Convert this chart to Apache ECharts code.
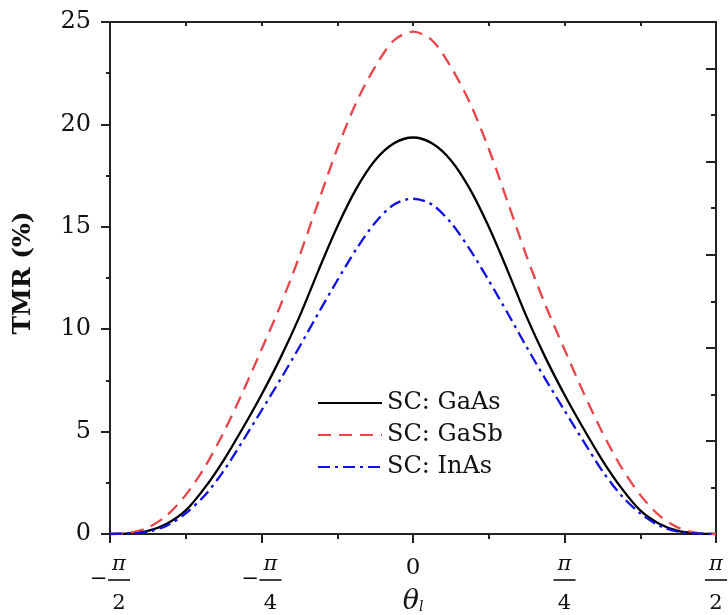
<!DOCTYPE html>
<html>
<head>
<meta charset="utf-8">
<script src="https://cdn.jsdelivr.net/npm/echarts@6/dist/echarts.min.js"></script>
<style>html,body{margin:0;padding:0;background:#fff;}#c{width:728px;height:615px;}</style>
</head>
<body>
<div id="c"></div>
<script>
// theta in units of pi (from -pi/2 to pi/2, step pi/32)
const thetaOverPi = [-0.5, -0.46875, -0.4375, -0.40625, -0.375, -0.34375, -0.3125, -0.28125, -0.25, -0.21875, -0.1875, -0.15625, -0.125, -0.09375, -0.0625, -0.03125, 0,
  0.03125, 0.0625, 0.09375, 0.125, 0.15625, 0.1875, 0.21875, 0.25, 0.28125, 0.3125, 0.34375, 0.375, 0.40625, 0.4375, 0.46875, 0.5];
const tmrGaAs = [0, 0.03, 0.15, 0.5, 1.15, 2.25, 3.6, 5.15, 6.8, 8.6, 10.6, 12.85, 15.0, 16.85, 18.25, 19.08, 19.36,
  19.08, 18.25, 16.85, 15.0, 12.85, 10.6, 8.6, 6.8, 5.15, 3.6, 2.25, 1.15, 0.5, 0.15, 0.03, 0];
const tmrGaSb = [0, 0.05, 0.31, 0.91, 1.91, 3.26, 4.96, 6.91, 9.01, 11.16, 13.56, 16.21, 18.81, 21.06, 22.81, 24.11, 24.53,
  24.11, 22.81, 21.06, 18.81, 16.21, 13.56, 11.16, 9.01, 6.91, 4.96, 3.26, 1.91, 0.91, 0.31, 0.05, 0];
const tmrInAs = [0, 0.03, 0.11, 0.41, 1.01, 1.88, 3.08, 4.53, 6.03, 7.55, 9.13, 10.78, 12.38, 13.9, 15.2, 16.09, 16.37,
  16.09, 15.2, 13.9, 12.38, 10.78, 9.13, 7.55, 6.03, 4.53, 3.08, 1.88, 1.01, 0.41, 0.11, 0.03, 0];
const seriesNames = ['SC: GaAs', 'SC: GaSb', 'SC: InAs'];
const rightMajorTicks = [2, 4, 6, 8, 10];
const rightMinorTicks = [1, 3, 5, 7, 9];

const FONT = 'DejaVu Serif';
const AX = '#222';

function pairs(ys) { return thetaOverPi.map((x, i) => [x, ys[i]]); }

function fracLabel(v) {
  if (Math.abs(v) < 1e-9) return '{z|0}';
  const den = Math.abs(Math.abs(v) - 0.5) < 1e-9 ? '2' : '4';
  if (v < 0) return '{sp| }{n|π}\n{m|−}{bar| }\n{sp| }{d|' + den + '}';
  return '{n|π}\n{bar| }\n{d|' + den + '}';
}

const chart = echarts.init(document.getElementById('c'), null, {renderer: 'canvas'});
chart.setOption({
  animation: false,
  backgroundColor: '#fff',
  grid: {left: 110, right: 12, top: 22, bottom: 81, containLabel: false, outerBoundsMode: 'none'},
  legend: {
    orient: 'vertical', left: 312, top: 386,
    itemWidth: 64, itemHeight: 14, itemGap: 8,
    itemStyle: {opacity: 0},
    textStyle: {fontFamily: FONT, fontSize: 24, color: '#111', lineHeight: 24},
    data: seriesNames
  },
  xAxis: [{
    type: 'value', min: -0.5, max: 0.5, interval: 0.25, position: 'bottom',
    name: '{t|θ}{s|l}', nameLocation: 'middle', nameGap: 54, nameMoveOverlap: false,
    nameTextStyle: {rich: {
      t: {fontFamily: FONT, fontStyle: 'italic', fontSize: 27, color: '#111'},
      s: {fontFamily: FONT, fontStyle: 'italic', fontSize: 14, color: '#111', padding: [12, 0, 0, 0]}
    }},
    axisLine: {show: true, onZero: false, lineStyle: {color: AX, width: 2}},
    axisTick: {show: true, inside: false, length: 9, lineStyle: {color: AX, width: 2}},
    minorTick: {show: true, splitNumber: 2, length: 5, lineStyle: {color: AX, width: 2}},
    splitLine: {show: false}, minorSplitLine: {show: false},
    axisLabel: {
      margin: 20, verticalAlign: 'top', formatter: fracLabel, color: '#111',
      rich: {
        z: {fontFamily: FONT, fontSize: 23, lineHeight: 28, color: '#111'},
        n: {fontFamily: FONT, fontStyle: 'italic', fontSize: 21, width: 22, align: 'center', lineHeight: 22, color: '#111'},
        d: {fontFamily: FONT, fontSize: 21, width: 22, align: 'center', lineHeight: 40, color: '#111'},
        bar: {width: 22, height: 1.6, backgroundColor: '#111', lineHeight: 8, fontSize: 4},
        m: {fontFamily: FONT, fontSize: 21, width: 18, align: 'left', lineHeight: 8, color: '#111'},
        sp: {width: 18, fontSize: 4, lineHeight: 8}
      }
    }
  }, {
    type: 'value', min: -0.5, max: 0.5, interval: 0.125, position: 'top',
    axisLine: {show: true, onZero: false, lineStyle: {color: AX, width: 2}},
    axisTick: {show: true, inside: true, length: 4, lineStyle: {color: AX, width: 2}},
    axisLabel: {show: false}, splitLine: {show: false}
  }],
  yAxis: [{
    type: 'value', min: 0, max: 25, interval: 5, position: 'left',
    name: 'TMR (%)', nameLocation: 'middle', nameGap: 74, nameMoveOverlap: false,
    nameTextStyle: {fontFamily: FONT, fontWeight: 'bold', fontSize: 25, color: '#111', padding: [0, 0, 0, 10]},
    axisLine: {show: true, onZero: false, lineStyle: {color: AX, width: 2}},
    axisTick: {show: true, inside: false, length: 9, lineStyle: {color: AX, width: 2}},
    minorTick: {show: true, splitNumber: 2, length: 4, lineStyle: {color: AX, width: 2}},
    splitLine: {show: false}, minorSplitLine: {show: false},
    axisLabel: {margin: 19, fontFamily: FONT, fontSize: 24, color: '#111'}
  }, {
    type: 'value', min: 0, max: 11, position: 'right', offset: 0,
    axisLine: {show: true, onZero: false, lineStyle: {color: AX, width: 2}},
    axisTick: {show: true, inside: true, length: 10, customValues: rightMajorTicks, lineStyle: {color: AX, width: 2}},
    axisLabel: {show: false}, splitLine: {show: false}
  }, {
    type: 'value', min: 0, max: 11, position: 'right', offset: 0,
    axisLine: {show: true, onZero: false, lineStyle: {color: AX, width: 2}},
    axisTick: {show: true, inside: true, length: 5, customValues: rightMinorTicks, lineStyle: {color: AX, width: 2}},
    axisLabel: {show: false}, splitLine: {show: false}
  }],
  series: [{
    name: seriesNames[0], type: 'line', data: pairs(tmrGaAs), smooth: 0.3, symbol: 'none',
    lineStyle: {color: '#000', width: 2.3, type: 'solid'}, itemStyle: {color: '#000'}
  }, {
    name: seriesNames[1], type: 'line', data: pairs(tmrGaSb), smooth: 0.3, symbol: 'none',
    lineStyle: {color: '#e8454a', width: 2.3, type: [13, 8]}, itemStyle: {color: '#e8454a'}
  }, {
    name: seriesNames[2], type: 'line', data: pairs(tmrInAs), smooth: 0.3, symbol: 'none',
    lineStyle: {color: '#1010e6', width: 2.3, type: [12, 5, 3, 5]}, itemStyle: {color: '#1010e6'}
  }]
});
</script>
</body>
</html>
